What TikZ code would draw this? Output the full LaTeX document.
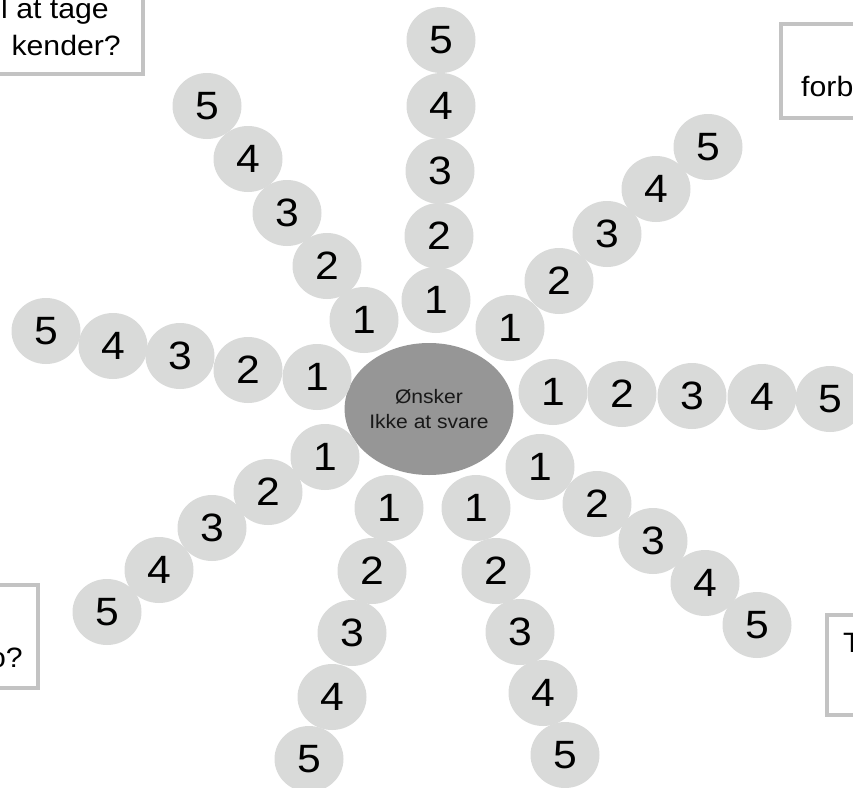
\documentclass[tikz,border=0pt]{standalone}
\usepackage{fontspec}
\usetikzlibrary{shapes.geometric}
\newfontfamily\arialx[FakeStretch=1.08]{Liberation Sans}
\definecolor{lightc}{HTML}{D9DAD9}
\definecolor{darkc}{HTML}{969696}
\definecolor{boxc}{HTML}{C3C3C3}
\tikzset{
  numc/.style={ellipse, fill=lightc, minimum width=69pt, minimum height=66pt, inner sep=0pt,
    font=\arialx\fontsize{39.5}{42}\selectfont},
  hub/.style={ellipse, fill=darkc, minimum width=140pt, minimum height=132pt, inner sep=0pt,
    align=center, text=black!90, font=\arialx\fontsize{19.5}{25}\selectfont},
  qbox/.style={draw=boxc, line width=3.5pt, fill=white},
  qtext/.style={inner sep=0pt, font=\arialx\fontsize{28}{37}\selectfont}
}
\begin{document}
\begin{tikzpicture}[x=1pt,y=-1pt]
\useasboundingbox (0,0) rectangle (853,787);
\clip (0,0) rectangle (853,787);
% question boxes (cut by the picture's edge)
\draw[qbox] (-40,-40) rectangle (143,74);
\node[qtext, anchor=base east] (tl1) at (109,18) {l at tage};
\node[qtext, anchor=base east] (tl2) at (121,55) {kender?};
\draw[qbox] (781,24) rectangle (900,118);
\node[qtext, anchor=base west] (tr1) at (801,96) {forb};
\draw[qbox] (-40,585) rectangle (38,688);
\node[qtext, anchor=base east] (bl1) at (23,667) {o?};
\draw[qbox] (827,615) rectangle (900,715);
\node[qtext, anchor=base west] (br1) at (843,652) {T};
% centre
\node[hub] (hub) at (429,409) {Ønsker\\Ikke at svare};
% arms
\foreach \arm/\ax/\ay/\bx/\by/\cx/\cy/\dx/\dy/\ex/\ey in {
  up/436/300/439/236/440/171/441/106/441/40,
  ul/364/320/327/266/287/213/248/159/207/106,
  ur/510/328/559/281/607/234/656/189/708/147,
  rt/553/392/622/394/692/396/762/397/830/399,
  dr/540/467/597/504/653/541/705/583/757/625,
  dbr/476/508/496/571/520/632/543/693/565/755,
  dbl/389/508/372/571/352/633/332/697/309/759,
  dl/325/457/268/492/212/528/159/570/107/612,
  lt/317/377/248/370/180/356/113/346/46/331}{
  \node[numc] (\arm-1) at (\ax,\ay) {1};
  \node[numc] (\arm-2) at (\bx,\by) {2};
  \node[numc] (\arm-3) at (\cx,\cy) {3};
  \node[numc] (\arm-4) at (\dx,\dy) {4};
  \node[numc] (\arm-5) at (\ex,\ey) {5};
}
\end{tikzpicture}
\end{document}
